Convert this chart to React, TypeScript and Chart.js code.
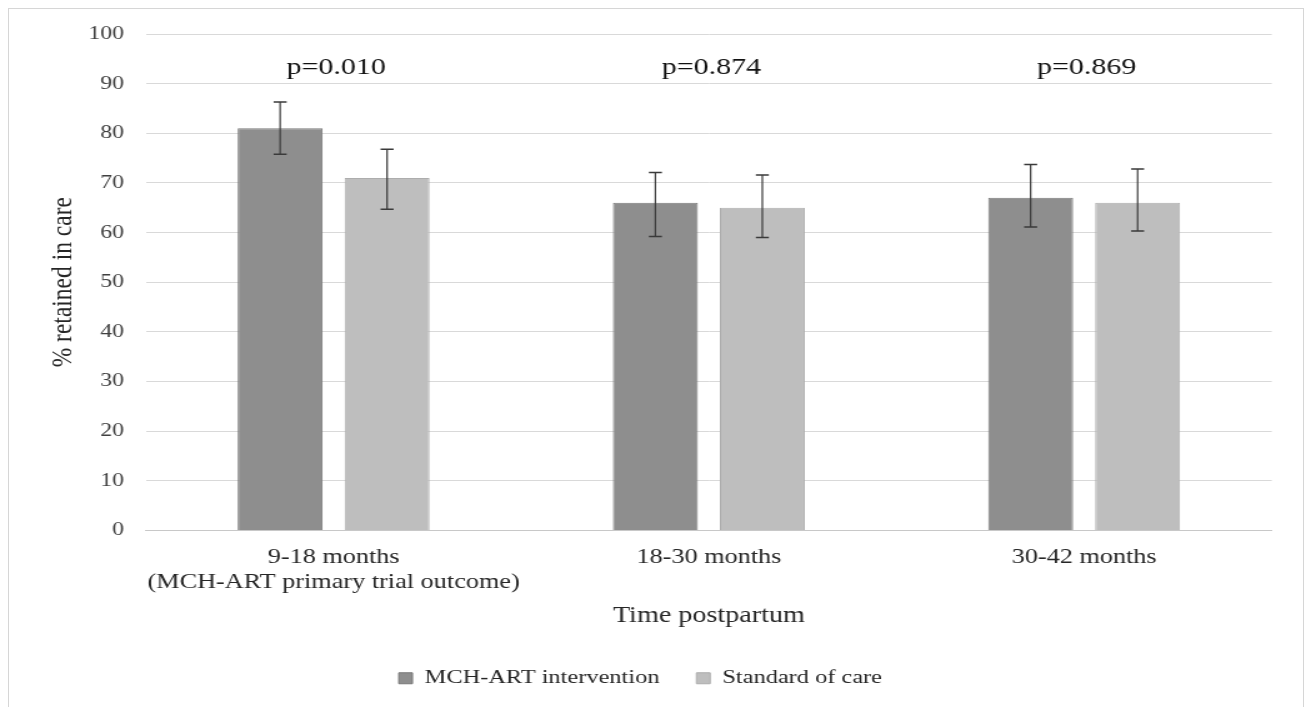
import React, { useEffect, useRef } from "react";
import { Chart, registerables } from "chart.js";

Chart.register(...registerables);

// ---- data ----
const categories: (string | string[])[] = [
  ["9-18 months", "(MCH-ART primary trial outcome)"],
  "18-30 months",
  "30-42 months",
];
const seriesNames = ["MCH-ART intervention", "Standard of care"];
const interventionValues = [81, 66, 67];
const interventionLower = [75.8, 59.2, 61.1];
const interventionUpper = [86.3, 72.1, 73.7];
const standardValues = [71, 65, 66];
const standardLower = [64.7, 59.0, 60.3];
const standardUpper = [76.8, 71.6, 72.8];
const pValueLabels = ["p=0.010", "p=0.874", "p=0.869"];
const pValueLabelY = 92; // data-space baseline for p-value annotations
const yMin = 0;
const yMax = 100;
const yStep = 10;
const yTitle = "% retained in care";
const xTitle = "Time postpartum";

// ---- layout constants ----
const OUT_W = 1311;
const H = 707;
const STRETCH = 1.25;
const W = Math.round(OUT_W / STRETCH);
const SERIF = "'Liberation Serif', 'Times New Roman', serif";
const PAD_LEFT = 7.2;

const errorLows = [interventionLower, standardLower];
const errorHighs = [interventionUpper, standardUpper];

const errorBarPlugin = {
  id: "errorBars",
  afterDatasetsDraw(chart: any) {
    const ctx = chart.ctx;
    const yScale = chart.scales.y;
    ctx.save();
    ctx.strokeStyle = "#3a3a3a";
    chart.data.datasets.forEach((_: any, di: number) => {
      const meta = chart.getDatasetMeta(di);
      meta.data.forEach((bar: any, j: number) => {
        const x = bar.x;
        const yLo = yScale.getPixelForValue(errorLows[di][j]);
        const yHi = yScale.getPixelForValue(errorHighs[di][j]);
        const half = 5.2;
        ctx.lineWidth = 1.2;
        ctx.beginPath();
        ctx.moveTo(x, yLo);
        ctx.lineTo(x, yHi);
        ctx.stroke();
        ctx.lineWidth = 1.5;
        ctx.beginPath();
        ctx.moveTo(x - half, yLo);
        ctx.lineTo(x + half, yLo);
        ctx.moveTo(x - half, yHi);
        ctx.lineTo(x + half, yHi);
        ctx.stroke();
      });
    });
    ctx.restore();
  },
};

const pValuePlugin = {
  id: "pValues",
  afterDraw(chart: any) {
    const ctx = chart.ctx;
    const xScale = chart.scales.x;
    const yScale = chart.scales.y;
    ctx.save();
    ctx.font = `24px ${SERIF}`;
    ctx.fillStyle = "#111111";
    ctx.textAlign = "center";
    ctx.textBaseline = "alphabetic";
    pValueLabels.forEach((label, j) => {
      const x = xScale.getPixelForValue(j) + 2;
      const y = yScale.getPixelForValue(pValueLabelY);
      ctx.fillText(label, x, y);
    });
    ctx.restore();
  },
};

export default function App() {
  const canvasRef = useRef<HTMLCanvasElement | null>(null);

  useEffect(() => {
    if (!canvasRef.current) return;
    const chart = new Chart(canvasRef.current, {
      type: "bar",
      data: {
        labels: categories,
        datasets: [
          {
            label: seriesNames[0],
            data: interventionValues,
            backgroundColor: "#8e8e8e",
            borderColor: "#7a7a7a",
            borderWidth: 1,
            barPercentage: 0.794,
            categoryPercentage: 0.57,
          },
          {
            label: seriesNames[1],
            data: standardValues,
            backgroundColor: "#bebebe",
            borderColor: "#adadad",
            borderWidth: 1,
            barPercentage: 0.794,
            categoryPercentage: 0.57,
          },
        ],
      },
      options: {
        responsive: false,
        animation: false,
        devicePixelRatio: 1,
        layout: { padding: { top: 34, right: W - 1272 / STRETCH, bottom: 9, left: PAD_LEFT } },
        plugins: {
          legend: {
            position: "bottom",
            labels: {
              boxWidth: 11,
              boxHeight: 11,
              padding: 29.6,
              color: "#262626",
              font: { family: SERIF, size: 19.5 },
            },
          },
          tooltip: { enabled: false },
          title: { display: false },
        },
        scales: {
          x: {
            grid: { display: false, drawTicks: false },
            border: { display: true, color: "#c8c8c8", width: 1 },
            ticks: {
              color: "#262626",
              font: { family: SERIF, size: 21, lineHeight: 1.2 },
              padding: 14.4,
              maxRotation: 0,
              autoSkip: false,
            },
            title: {
              display: true,
              text: xTitle,
              color: "#262626",
              font: { family: SERIF, size: 22.5, lineHeight: 1.2 },
              padding: { top: 0, bottom: 9.5 },
            },
            afterFit(scale: any) {
              scale.height = 108.5;
            },
          },
          y: {
            min: yMin,
            max: yMax,
            grid: { color: "#d9d9d9", drawTicks: false, lineWidth: 1 },
            border: { display: false },
            ticks: {
              stepSize: yStep,
              color: "#404040",
              font: { family: SERIF, size: 19 },
              padding: 17.6,
            },
            title: {
              display: true,
              text: yTitle,
              color: "#262626",
              font: { family: SERIF, size: 23.5, lineHeight: 1.2 },
              padding: { top: 36.3 - PAD_LEFT, bottom: 0 },
            },
            afterFit(scale: any) {
              scale.width = 146 / STRETCH - PAD_LEFT;
            },
          },
        },
      },
      plugins: [errorBarPlugin, pValuePlugin],
    });
    return () => chart.destroy();
  }, []);

  return (
    <div
      style={{
        position: "absolute",
        left: 0,
        top: 0,
        width: OUT_W,
        height: H,
        overflow: "hidden",
        background: "#ffffff",
      }}
    >
      <div
        style={{
          position: "absolute",
          left: 8,
          top: 8,
          width: 1296,
          height: 730,
          border: "1px solid #d6d6d6",
          boxSizing: "border-box",
        }}
      />
      <canvas
        ref={canvasRef}
        width={W}
        height={H}
        style={{
          position: "absolute",
          left: 0,
          top: 0,
          width: W,
          height: H,
          transform: `scaleX(${OUT_W / W})`,
          transformOrigin: "0 0",
        }}
      />
    </div>
  );
}
